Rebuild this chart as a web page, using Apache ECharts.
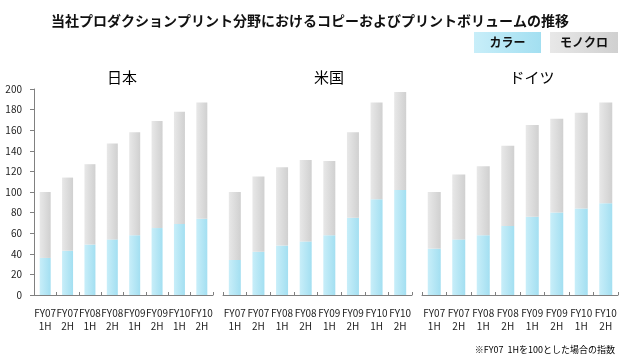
<!DOCTYPE html>
<html>
<head>
<meta charset="utf-8">
<script src="https://cdn.jsdelivr.net/npm/echarts@6/dist/echarts.min.js"></script>
<style>html,body{margin:0;padding:0;background:#fff}#c{width:620px;height:360px}</style>
</head>
<body>
<div id="c"></div>
<script>
const categories = ['FY07\n1H','FY07\n2H','FY08\n1H','FY08\n2H','FY09\n1H','FY09\n2H','FY10\n1H','FY10\n2H'];
const yTicks = [0, 20, 40, 60, 80, 100, 120, 140, 160, 180, 200];
const regions = ['日本', '米国', 'ドイツ'];
const seriesNames = ['カラー', 'モノクロ'];
const japanColor = [36, 43, 49, 54, 58, 65, 69, 74];
const japanMono  = [64, 71, 78, 93, 100, 104, 109, 113];
const usColor    = [34, 42, 48, 52, 58, 75, 93, 102];
const usMono     = [66, 73, 76, 79, 72, 83, 94, 95];
const deColor    = [45, 54, 58, 67, 76, 80, 84, 89];
const deMono     = [55, 63, 67, 78, 89, 91, 93, 98];
const titleText = '当社プロダクションプリント分野におけるコピーおよびプリントボリュームの推移';
const noteText = '※FY07  1Hを100とした場合の指数';

const FONT = '"Noto Sans CJK JP", sans-serif';
const colorData = [japanColor, usColor, deColor];
const monoData = [japanMono, usMono, deMono];
const grids = [
  {left: 34, width: 179, top: 89, bottom: 65, barWidth: 11, titleX: 117},
  {left: 223, width: 189, top: 89, bottom: 65, barWidth: 12, titleX: 324},
  {left: 422, width: 196, top: 89, bottom: 65, barWidth: 13, titleX: 527}
];
const cyanGrad = () => new echarts.graphic.LinearGradient(0, 0, 1, 0, [{offset: 0, color: '#c8eef9'}, {offset: 1, color: '#a3dff1'}]);
const grayGrad = () => new echarts.graphic.LinearGradient(0, 0, 1, 0, [{offset: 0, color: '#e8e8e8'}, {offset: 1, color: '#d0d0d0'}]);

const chart = echarts.init(document.getElementById('c'), null, {renderer: 'canvas'});
const option = {
  animation: false,
  textStyle: {fontFamily: FONT},
  title: [
    {text: titleText, left: 'center', top: 9, textStyle: {fontSize: 14, fontWeight: 'bold', color: '#111', fontFamily: FONT}}
  ].concat(regions.map((r, i) => ({
    text: r, left: grids[i].titleX, top: 65, textAlign: 'center',
    textStyle: {fontSize: 15, fontWeight: 'normal', color: '#000', fontFamily: FONT}
  }))),
  grid: grids.map(g => ({left: g.left, width: g.width, top: g.top, bottom: g.bottom, containLabel: false})),
  xAxis: grids.map((g, i) => ({
    type: 'category', gridIndex: i, data: categories,
    axisLine: {lineStyle: {color: '#808080', width: 1}},
    axisTick: {show: true, inside: true, length: 3, lineStyle: {color: '#808080'}},
    axisLabel: {interval: 0, fontSize: 10, lineHeight: 13, margin: 12, color: '#222', fontFamily: FONT}
  })),
  yAxis: grids.map((g, i) => ({
    type: 'value', gridIndex: i, min: yTicks[0], max: yTicks[yTicks.length - 1], interval: yTicks[1] - yTicks[0],
    splitLine: {show: false},
    axisLine: {show: i === 0, lineStyle: {color: '#808080'}},
    axisTick: {show: i === 0, length: 4, lineStyle: {color: '#808080'}},
    axisLabel: {show: i === 0, fontSize: 10, color: '#222', margin: 12, fontFamily: FONT}
  })),
  series: [].concat(...grids.map((g, i) => [
    {name: seriesNames[0], type: 'bar', stack: 's' + i, xAxisIndex: i, yAxisIndex: i, barWidth: g.barWidth,
     data: colorData[i], itemStyle: {color: cyanGrad()}},
    {name: seriesNames[1], type: 'bar', stack: 's' + i, xAxisIndex: i, yAxisIndex: i, barWidth: g.barWidth,
     data: monoData[i], itemStyle: {color: grayGrad()}}
  ])),
  graphic: [
    {type: 'rect', shape: {x: 474, y: 32, width: 67, height: 21}, style: {fill: cyanGrad()}},
    {type: 'text', x: 507.5, y: 42.5, style: {text: seriesNames[0], font: 'bold 12px ' + FONT, fill: '#111', align: 'center', verticalAlign: 'middle'}},
    {type: 'rect', shape: {x: 550, y: 32, width: 68, height: 21}, style: {fill: grayGrad()}},
    {type: 'text', x: 584, y: 42.5, style: {text: seriesNames[1], font: 'bold 12px ' + FONT, fill: '#111', align: 'center', verticalAlign: 'middle'}},
    {type: 'text', right: 5, top: 345, style: {text: noteText, font: '9px ' + FONT, fill: '#000'}}
  ]
};
chart.setOption(option);
</script>
</body>
</html>
